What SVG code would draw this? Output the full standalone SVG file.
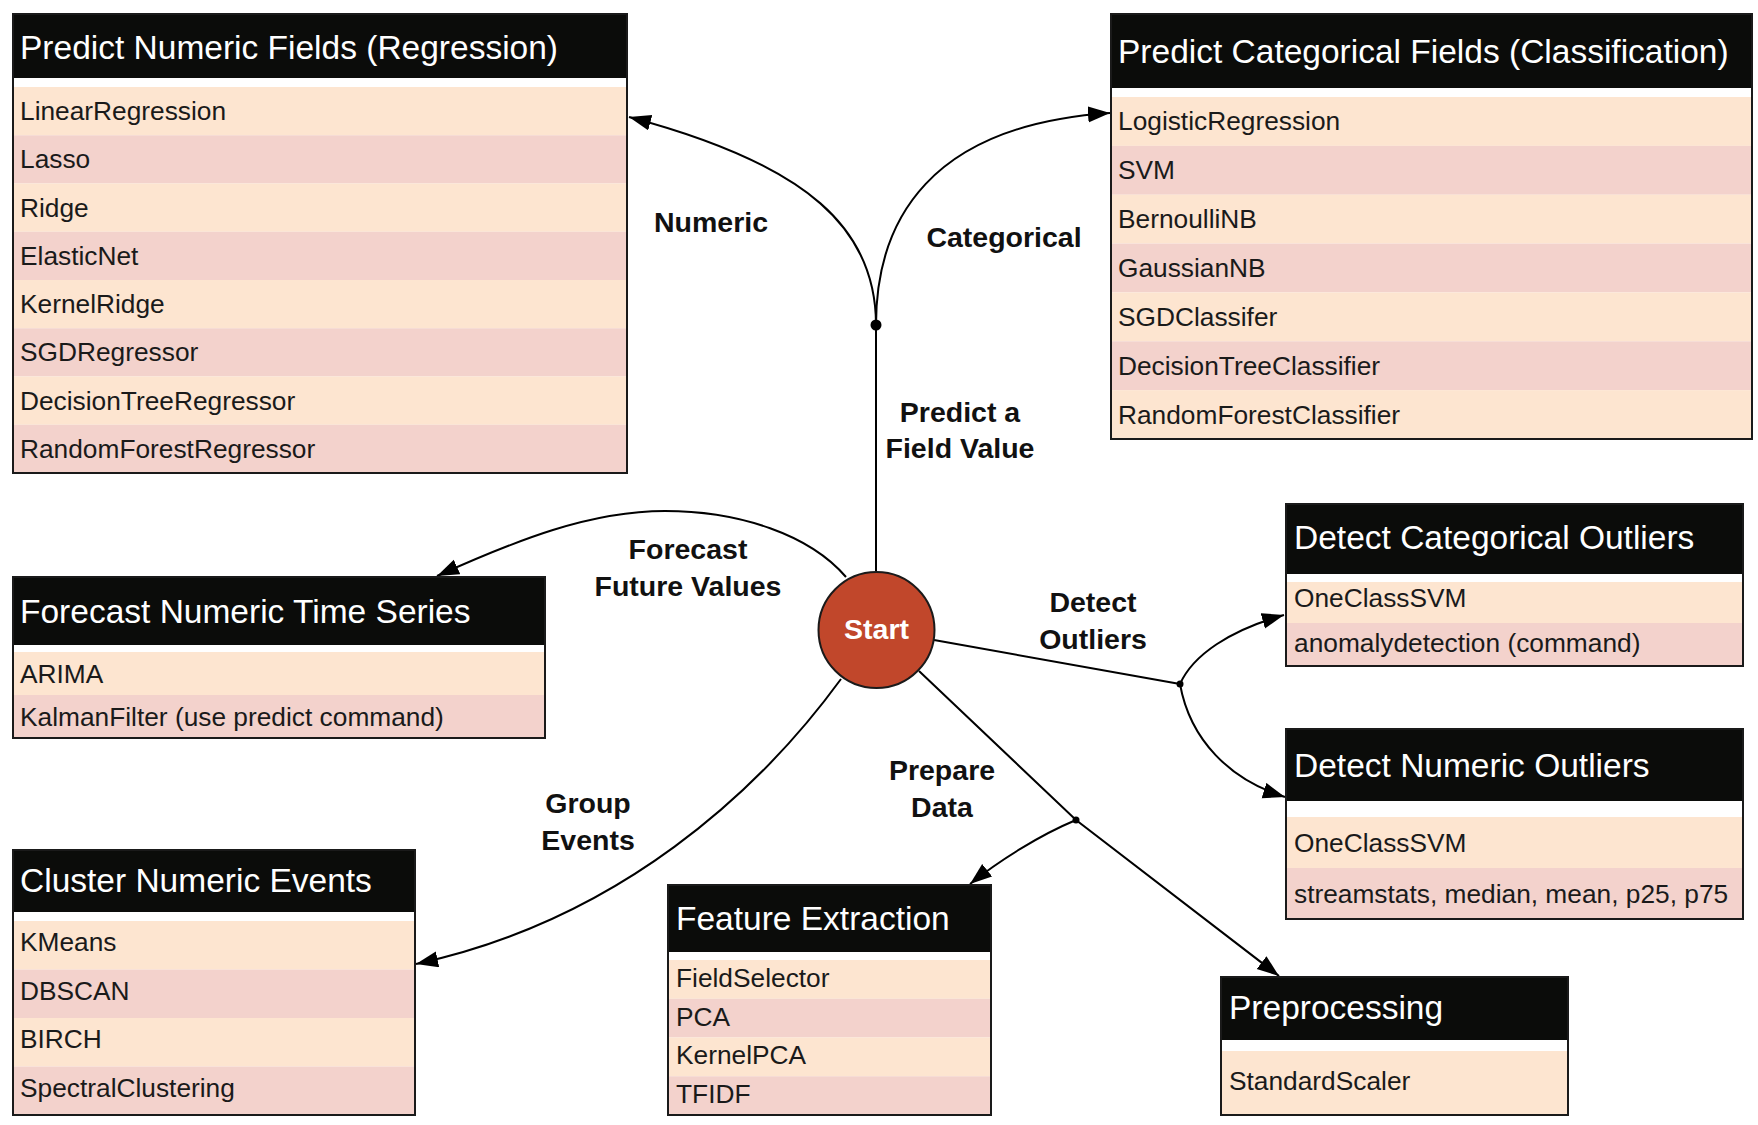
<svg xmlns="http://www.w3.org/2000/svg" width="1758" height="1125" viewBox="0 0 1758 1125">
<style>
.hdr{fill:#0b0c0a}
.stripe{fill:#ffffff}
.r1{fill:#fde5d0}
.r2{fill:#f3d2cc}
.border{fill:none;stroke:#1a1a1a;stroke-width:2}
.title{font-family:"Liberation Sans",Arial,sans-serif;font-size:33.5px;fill:#ffffff}
.item{font-family:"Liberation Sans",Arial,sans-serif;font-size:26.3px;fill:#1a1a1a}
.lbl{font-family:"Liberation Sans",Arial,sans-serif;font-size:28.5px;font-weight:bold;fill:#111111;text-anchor:middle}
.edge{fill:none;stroke:#000000;stroke-width:2}
.dot{fill:#000000}
</style>
<defs>
<marker id="arr" markerUnits="userSpaceOnUse" markerWidth="24" markerHeight="18" refX="22" refY="8" orient="auto">
<path d="M0,0 L22,8 L0,16 Z" fill="#000000"/>
</marker>
</defs>
<rect width="1758" height="1125" fill="#ffffff"/>

<g id="connectors">
<path class="edge" d="M876,571 L876,325"/>
<path class="edge" d="M876,325 C876,230 810,165 629,117" marker-end="url(#arr)"/>
<path class="edge" d="M876,325 C876,220 930,125 1110,113" marker-end="url(#arr)"/>
<path class="edge" d="M846,577 C810,535 740,511 665,511 C590,511 517,540 437,576" marker-end="url(#arr)"/>
<path class="edge" d="M841,679 C760,790 620,920 416,964" marker-end="url(#arr)"/>
<path class="edge" d="M934,640 L1180,684"/>
<path class="edge" d="M1180,684 C1193,655 1230,630 1284,615" marker-end="url(#arr)"/>
<path class="edge" d="M1180,684 C1190,740 1230,780 1285,797" marker-end="url(#arr)"/>
<path class="edge" d="M919,671 L1076,820 L1279,976" marker-end="url(#arr)"/>
<path class="edge" d="M1076,820 C1040,835 1000,860 970,884" marker-end="url(#arr)"/>
<circle class="dot" cx="876" cy="325" r="5.5"/>
<circle class="dot" cx="1180" cy="684" r="3.5"/>
<circle class="dot" cx="1076" cy="820" r="3.5"/>
<text class="lbl" x="711" y="232">Numeric</text>
<text class="lbl" x="1004" y="247">Categorical</text>
<text class="lbl" x="960" y="422">Predict a</text>
<text class="lbl" x="960" y="458">Field Value</text>
<text class="lbl" x="688" y="559">Forecast</text>
<text class="lbl" x="688" y="596">Future Values</text>
<text class="lbl" x="588" y="813">Group</text>
<text class="lbl" x="588" y="850">Events</text>
<text class="lbl" x="1093" y="612">Detect</text>
<text class="lbl" x="1093" y="649">Outliers</text>
<text class="lbl" x="942" y="780">Prepare</text>
<text class="lbl" x="942" y="817">Data</text>
</g>

<g id="start">
<circle cx="876.5" cy="630" r="58" fill="#c1472b" stroke="#1a1a1a" stroke-width="2"/>
<text x="876.5" y="639" font-family="'Liberation Sans',Arial,sans-serif" font-size="28.5" font-weight="bold" fill="#ffffff" text-anchor="middle">Start</text>
</g>

<g id="regression">
<rect class="hdr" x="13" y="14" width="614" height="64"/>
<rect class="stripe" x="13" y="78" width="614" height="9"/>
<rect class="r1" x="13" y="87" width="614" height="48.25"/>
<rect class="r2" x="13" y="135.25" width="614" height="48.25"/>
<rect class="r1" x="13" y="183.5" width="614" height="48.25"/>
<rect class="r2" x="13" y="231.75" width="614" height="48.25"/>
<rect class="r1" x="13" y="280" width="614" height="48.25"/>
<rect class="r2" x="13" y="328.25" width="614" height="48.25"/>
<rect class="r1" x="13" y="376.5" width="614" height="48.25"/>
<rect class="r2" x="13" y="424.75" width="614" height="48.25"/>
<rect class="border" x="13" y="14" width="614" height="459"/>
<text class="title" x="20" y="59">Predict Numeric Fields (Regression)</text>
<text class="item" x="20" y="120">LinearRegression</text>
<text class="item" x="20" y="168.3">Lasso</text>
<text class="item" x="20" y="216.5">Ridge</text>
<text class="item" x="20" y="264.8">ElasticNet</text>
<text class="item" x="20" y="313">KernelRidge</text>
<text class="item" x="20" y="361.3">SGDRegressor</text>
<text class="item" x="20" y="409.5">DecisionTreeRegressor</text>
<text class="item" x="20" y="457.8">RandomForestRegressor</text>
</g>

<g id="classification">
<rect class="hdr" x="1111" y="14" width="641" height="74"/>
<rect class="stripe" x="1111" y="88" width="641" height="9"/>
<rect class="r1" x="1111" y="97" width="641" height="48.86"/>
<rect class="r2" x="1111" y="145.86" width="641" height="48.86"/>
<rect class="r1" x="1111" y="194.71" width="641" height="48.86"/>
<rect class="r2" x="1111" y="243.57" width="641" height="48.86"/>
<rect class="r1" x="1111" y="292.43" width="641" height="48.86"/>
<rect class="r2" x="1111" y="341.29" width="641" height="48.86"/>
<rect class="r1" x="1111" y="390.14" width="641" height="48.86"/>
<rect class="border" x="1111" y="14" width="641" height="425"/>
<text class="title" x="1118" y="63">Predict Categorical Fields (Classification)</text>
<text class="item" x="1118" y="130.4">LogisticRegression</text>
<text class="item" x="1118" y="179.3">SVM</text>
<text class="item" x="1118" y="228.1">BernoulliNB</text>
<text class="item" x="1118" y="277">GaussianNB</text>
<text class="item" x="1118" y="325.9">SGDClassifer</text>
<text class="item" x="1118" y="374.7">DecisionTreeClassifier</text>
<text class="item" x="1118" y="423.6">RandomForestClassifier</text>
</g>

<g id="forecast">
<rect class="hdr" x="13" y="577" width="532" height="68"/>
<rect class="stripe" x="13" y="645" width="532" height="7"/>
<rect class="r1" x="13" y="652" width="532" height="43"/>
<rect class="r2" x="13" y="695" width="532" height="43"/>
<rect class="border" x="13" y="577" width="532" height="161"/>
<text class="title" x="20" y="623">Forecast Numeric Time Series</text>
<text class="item" x="20" y="682.5">ARIMA</text>
<text class="item" x="20" y="725.5">KalmanFilter (use predict command)</text>
</g>

<g id="cluster">
<rect class="hdr" x="13" y="850" width="402" height="62"/>
<rect class="stripe" x="13" y="912" width="402" height="9"/>
<rect class="r1" x="13" y="921" width="402" height="48.5"/>
<rect class="r2" x="13" y="969.5" width="402" height="48.5"/>
<rect class="r1" x="13" y="1018" width="402" height="48.5"/>
<rect class="r2" x="13" y="1066.5" width="402" height="48.5"/>
<rect class="border" x="13" y="850" width="402" height="265"/>
<text class="title" x="20" y="892">Cluster Numeric Events</text>
<text class="item" x="20" y="951.2">KMeans</text>
<text class="item" x="20" y="999.7">DBSCAN</text>
<text class="item" x="20" y="1048.2">BIRCH</text>
<text class="item" x="20" y="1096.7">SpectralClustering</text>
</g>

<g id="feature-extraction">
<rect class="hdr" x="668" y="885" width="323" height="67"/>
<rect class="stripe" x="668" y="952" width="323" height="8"/>
<rect class="r1" x="668" y="960" width="323" height="38.75"/>
<rect class="r2" x="668" y="998.75" width="323" height="38.75"/>
<rect class="r1" x="668" y="1037.5" width="323" height="38.75"/>
<rect class="r2" x="668" y="1076.25" width="323" height="38.75"/>
<rect class="border" x="668" y="885" width="323" height="230"/>
<text class="title" x="676" y="930">Feature Extraction</text>
<text class="item" x="676" y="987.2">FieldSelector</text>
<text class="item" x="676" y="1025.7">PCA</text>
<text class="item" x="676" y="1064.2">KernelPCA</text>
<text class="item" x="676" y="1102.7">TFIDF</text>
</g>

<g id="cat-outliers">
<rect class="hdr" x="1286" y="504" width="457" height="70"/>
<rect class="stripe" x="1286" y="574" width="457" height="8"/>
<rect class="r1" x="1286" y="582" width="457" height="41"/>
<rect class="r2" x="1286" y="623" width="457" height="43"/>
<rect class="border" x="1286" y="504" width="457" height="162"/>
<text class="title" x="1294" y="549">Detect Categorical Outliers</text>
<text class="item" x="1294" y="607">OneClassSVM</text>
<text class="item" x="1294" y="651.5">anomalydetection (command)</text>
</g>

<g id="num-outliers">
<rect class="hdr" x="1286" y="729" width="457" height="72"/>
<rect class="stripe" x="1286" y="801" width="457" height="16"/>
<rect class="r1" x="1286" y="817" width="457" height="51"/>
<rect class="r2" x="1286" y="868" width="457" height="51"/>
<rect class="border" x="1286" y="729" width="457" height="190"/>
<text class="title" x="1294" y="777">Detect Numeric Outliers</text>
<text class="item" x="1294" y="852">OneClassSVM</text>
<text class="item" x="1294" y="903">streamstats, median, mean, p25, p75</text>
</g>

<g id="preprocessing">
<rect class="hdr" x="1221" y="977" width="347" height="63"/>
<rect class="stripe" x="1221" y="1040" width="347" height="11"/>
<rect class="r1" x="1221" y="1051" width="347" height="64"/>
<rect class="border" x="1221" y="977" width="347" height="138"/>
<text class="title" x="1229" y="1019">Preprocessing</text>
<text class="item" x="1229" y="1090">StandardScaler</text>
</g>
</svg>
